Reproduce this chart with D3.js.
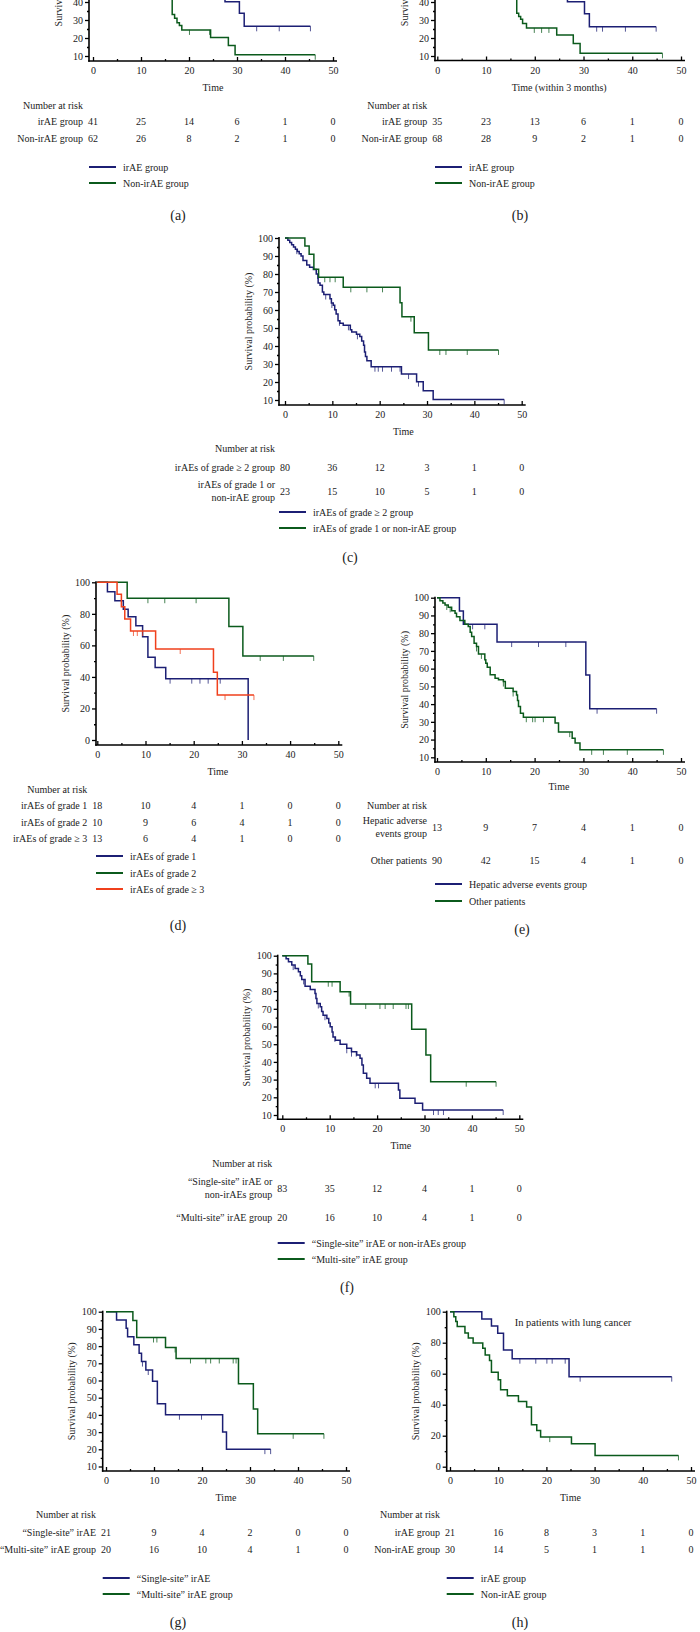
<!DOCTYPE html>
<html><head><meta charset="utf-8">
<script src="https://cdn.jsdelivr.net/npm/d3@7"></script>
<style>
body{margin:0;background:#fff}
svg{display:block}
text{font-family:"Liberation Serif","Times New Roman",serif;fill:#222}
</style>
</head><body>
<svg id="chart" width="700" height="1632"></svg>
<script>
// ---------------- DATA ----------------
const timeTicks = [0,10,20,30,40,50];
const timeMinor = [5,15,25,35,45];

// (a) all irAE vs non-irAE  — steps: [time, survival %]
const aIrae = [[0,100],[2,97.5],[4,95],[6,90],[8,85],[10,80],[12,72],[14,65],[16,58],[18,52],[20,48],[24,44],[27.5,40.2],[30.5,33.7],[31.5,26.5]];
const aIraeEnd = 45.3, aIraeCens = [34.1,38.8,45.3];
const aNon = [[0,100],[1,96],[3,90],[5,82],[7,74],[9,66],[11,60],[13,54],[15,49],[16.5,33],[17,31],[17.5,28.5],[18,27],[18.5,24.5],[24.5,20.3],[28.2,15.8],[29.6,10.7]];
const aNonEnd = 46.3, aNonCens = [20.1,24.3,46.3];
const aRiskIrae = [41,25,14,6,1,0];
const aRiskNon = [62,26,8,2,1,0];

// (b) within 3 months
const bIrae = [[0,100],[2,97],[4,94],[6,90],[8,85],[10,80],[12,74],[14,68],[16,62],[18,56],[20,51],[23,46],[26.7,40.2],[30.2,33.5],[31.2,26.3]];
const bIraeEnd = 44.9, bIraeCens = [32.7,33.9,38.6,44.9];
const bNon = [[0,100],[1,96],[3,90],[5,83],[7,75],[9,68],[11,61],[13,55],[15,50],[16.3,33.7],[16.7,31.9],[17.1,30.4],[17.5,28],[18.3,25.6],[24.5,21.7],[27.9,17],[29.3,11.5]];
const bNonEnd = 46.2, bNonCens = [19.9,21.4,22.9,46.2];
const bRiskIrae = [35,23,13,6,1,0];
const bRiskNon = [68,28,9,2,1,0];

// (c) grade >= 2 vs grade 1 or non-irAE
const cHigh = [[0,100],[0.6,98.8],[1.0,97.5],[1.4,96.3],[1.8,95],[2.2,93.8],[2.6,92.5],[3.0,91.3],[3.4,90],[3.8,87.5],[4.6,85],[5.2,83.8],[6.0,82.5],[6.6,80],[7.0,75],[7.4,73.8],[7.9,70],[8.2,68.6],[9.5,66.3],[9.8,63.9],[10.2,62.6],[10.5,60.2],[10.8,57.8],[11.2,54],[11.6,52.7],[12.3,51.5],[13.8,49],[14.1,47.8],[15.1,46.5],[15.8,45.3],[16.2,42.8],[16.6,40.4],[16.8,36.7],[17.0,34.2],[17.3,31.8],[18.2,28.5],[24.6,24.4],[27.8,20.2],[29.2,15.2],[31.3,10.3]];
const cHighEnd = 46.3, cHighCens = [2.5,6.9,8.6,9.9,11.5,13.4,15.3,19.0,19.7,20.6,22.5,24.3,26.1,28.2,46.3];
const cLow = [[0,100],[4.2,95.5],[5.1,91],[6.1,82.6],[7.1,78.2],[12.3,72.6],[24.3,64],[24.7,56.3],[27.3,47.4],[30.3,37.8]];
const cLowEnd = 45.1, cLowCens = [8.4,9.5,10.6,13.9,17.3,20.6,26.6,32.7,34.0,38.5,45.1];
const cRiskHigh = [80,36,12,3,1,0];
const cRiskLow = [23,15,10,5,1,0];

// (d) by grade
const dG1 = [[0,100],[2.1,94],[3.65,88.3],[5.4,82.9],[6.4,78.2],[8.0,72.5],[9.4,65.5],[10.5,52.4],[12.0,45.9],[14.2,38.9],[31.3,0]];
const dG1End = 31.3, dG1Cens = [15.1,19.6,21.3,23.0,25.5];
const dG2 = [[0,100],[6.2,89.9],[27.3,71.9],[30.2,53.3]];
const dG2End = 44.9, dG2Cens = [10.5,14.0,20.5,33.8,38.6,44.9];
const dG3 = [[0,100],[4.1,92.4],[5.0,84.5],[5.7,76.7],[6.9,69.1],[12.1,57.7],[24.1,42.9],[24.9,28.5]];
const dG3End = 32.5, dG3Cens = [7.5,8.3,9.4,17.2,26.5,32.5];
const dRiskG1 = [18,10,4,1,0,0];
const dRiskG2 = [10,9,6,4,1,0];
const dRiskG3 = [13,6,4,1,0,0];

// (e) hepatic adverse events
const eHep = [[0,100],[4.6,92.5],[5.4,85],[12.3,75],[30.5,56.4],[31.3,37.4]];
const eHepEnd = 45.0, eHepCens = [7.3,9.8,15.3,20.8,26.4,32.8,45.0];
const eOther = [[0,100],[0.6,98.3],[1.2,97],[1.65,95.9],[2.3,94.6],[3.0,92.7],[3.7,91.2],[4.0,89.3],[4.7,87.1],[5.7,85],[6.4,83.7],[6.8,80.5],[7.1,78.1],[7.6,74.3],[8.1,72.5],[8.5,68.3],[9.8,65],[10.0,63],[10.3,60.8],[10.9,56.5],[11.9,54.6],[12.6,53.7],[13.6,52.7],[14.0,49],[15.6,47.1],[16.3,45.2],[16.5,42],[16.7,38.6],[17.1,34.9],[17.7,32.6],[24.2,29.3],[24.9,24.2],[27.7,20.8],[28.3,18],[29.3,14.2]];
const eOtherEnd = 46.4, eOtherCens = [2.0,2.7,8.1,9.1,13.6,15.6,18.3,19.6,20.1,21.8,27.2,31.7,34.1,39.0,46.4];
const eRiskHep = [13,9,7,4,1,0];
const eRiskOther = [90,42,15,4,1,0];

// (f) single-site or non vs multi-site
const fSingle = [[0,100],[0.8,98.3],[1.3,96.6],[2.0,94.7],[2.7,92.8],[3.4,90.9],[3.8,88.7],[4.1,86.6],[4.8,82.8],[5.9,80.9],[6.9,78.7],[7.1,75.8],[7.3,73],[8.0,71.1],[8.3,68.5],[8.6,66.4],[9.4,64.5],[9.8,62],[10.1,59.8],[10.5,56.9],[10.7,54.1],[11.2,52.3],[12.2,50],[13.6,47.7],[14.6,45.8],[15.7,43.9],[16.4,42.0],[16.8,38.3],[17.1,33.6],[17.8,30.7],[18.5,27.9],[24.5,24.1],[24.8,19.4],[28.0,16.6],[29.6,12.8]];
const fSingleEnd = 46.6, fSingleCens = [2.3,4.5,7.6,9.0,11.1,13.6,14.6,15.6,19.6,20.3,31.9,32.9,34.0,46.6];
const fMulti = [[0,100],[5.4,95.3],[6.2,85.3],[12.2,79.7],[14.4,72.7],[27.3,58.4],[30.3,43.9],[31.3,28.8]];
const fMultiEnd = 45.1, fMultiCens = [9.7,10.5,14.1,17.6,20.6,21.7,23.4,26.1,26.6,38.8,45.1];
const fRiskSingle = [83,35,12,4,1,0];
const fRiskMulti = [20,16,10,4,1,0];

// (g) single-site irAE vs multi-site irAE
const gSingle = [[0,100],[2.2,95.2],[4.2,90.4],[4.5,85.5],[5.8,80.8],[6.9,75.8],[7.4,71.0],[8.3,66.1],[9.7,59.6],[10.7,46.5],[12.4,40.1],[24.3,30.0],[25.1,20.1]];
const gSingleEnd = 34.3, gSingleCens = [7.6,8.8,15.3,19.9,33.1,34.3];
const gMulti = [[0,100],[5.6,94.9],[6.4,85.0],[12.4,79.2],[14.6,72.8],[27.6,58.1],[30.7,43.5],[31.6,29.0]];
const gMultiEnd = 45.4, gMultiCens = [9.9,10.6,14.4,17.6,20.8,21.8,23.6,26.5,27.1,39.0,45.4];
const gRiskSingle = [21,9,4,2,0,0];
const gRiskMulti = [20,16,10,4,1,0];

// (h) lung cancer
const hIrae = [[0,100],[6.6,95.3],[8.6,90.8],[9.9,86.1],[11.1,75.3],[12.9,69.7],[24.7,58.1]];
const hIraeEnd = 46.0, hIraeCens = [14.5,17.8,20.1,21.2,23.9,27.0,46.0];
const hNon = [[0,100],[0.8,96.8],[1.2,93.7],[1.5,90.5],[3.1,86.2],[3.8,83],[4.8,79.8],[6.8,76.5],[7.3,72.1],[8.2,68.5],[8.6,61],[10.0,56.1],[10.5,49.6],[11.9,45.8],[14.2,42.1],[15.9,38.5],[16.9,27.1],[18.0,23.4],[18.8,19.1],[25.2,14.8],[30.1,7.3]];
const hNonEnd = 47.4, hNonCens = [20.7,47.4];
const hRiskIrae = [21,16,8,3,1,0];
const hRiskNon = [30,14,5,1,1,0];

const yTicksTen = [10,20,30,40,50,60,70,80,90,100];
const yMinorTen = [15,25,35,45,55,65,75,85,95];
const yTicksTwenty = [0,20,40,60,80,100];
const yMinorTwenty = [10,30,50,70,90];

// ---------------- STYLE ----------------
const BLUE = "#1c1f74", GREEN = "#0b5a1c", RED = "#f0401c";
const FONT = '"Liberation Serif","Times New Roman",serif';

// ---------------- LAYOUT + SERIES ----------------
const panels = [
 {label:"(a)", lx:178, ly:215, x0:93, x50:333, yv:[10,100], yp:[56,-106], yAxisX:89,
  yT:yTicksTen, yM:yMinorTen, axisY:61, timeY:87, timeText:"Time", narY:105, legendY:[167,183],
  series:[{s:aIrae,e:aIraeEnd,c:aIraeCens,col:BLUE,name:"irAE group"},{s:aNon,e:aNonEnd,c:aNonCens,col:GREEN,name:"Non-irAE group"}],
  rows:[{lab:["irAE group"],v:aRiskIrae,y:121},{lab:["Non-irAE group"],v:aRiskNon,y:138}]},
 {label:"(b)", lx:520, ly:215, x0:437.3, x50:681, yv:[10,100], yp:[56,-106], yAxisX:435,
  yT:yTicksTen, yM:yMinorTen, axisY:60.5, timeY:87, timeText:"Time (within 3 months)", narY:105, legendY:[167,183],
  series:[{s:bIrae,e:bIraeEnd,c:bIraeCens,col:BLUE,name:"irAE group"},{s:bNon,e:bNonEnd,c:bNonCens,col:GREEN,name:"Non-irAE group"}],
  rows:[{lab:["irAE group"],v:bRiskIrae,y:121},{lab:["Non-irAE group"],v:bRiskNon,y:138}]},
 {label:"(c)", lx:350, ly:557, x0:285, x50:521.7, yv:[10,100], yp:[400,238], yAxisX:279,
  yT:yTicksTen, yM:yMinorTen, axisY:405, timeY:431, timeText:"Time", narY:448, legendY:[512,528],
  series:[{s:cHigh,e:cHighEnd,c:cHighCens,col:BLUE,name:"irAEs of grade \u2265 2 group"},{s:cLow,e:cLowEnd,c:cLowCens,col:GREEN,name:"irAEs of grade 1 or non-irAE group"}],
  rows:[{lab:["irAEs of grade \u2265 2 group"],v:cRiskHigh,y:467},{lab:["irAEs of grade 1 or","non-irAE group"],v:cRiskLow,y:491}]},
 {label:"(d)", lx:178, ly:925, x0:97.3, x50:338.3, yv:[0,100], yp:[740,582.3], yAxisX:96,
  yT:yTicksTwenty, yM:yMinorTwenty, axisY:745, timeY:771, timeText:"Time", narY:789, legendY:[856,873,889],
  series:[{s:dG1,e:dG1End,c:dG1Cens,col:BLUE,name:"irAEs of grade 1"},{s:dG2,e:dG2End,c:dG2Cens,col:GREEN,name:"irAEs of grade 2"},{s:dG3,e:dG3End,c:dG3Cens,col:RED,name:"irAEs of grade \u2265 3"}],
  rows:[{lab:["irAEs of grade 1"],v:dRiskG1,y:805},{lab:["irAEs of grade 2"],v:dRiskG2,y:822},{lab:["irAEs of grade \u2265 3"],v:dRiskG3,y:838}]},
 {label:"(e)", lx:522, ly:929, x0:437, x50:681, yv:[10,100], yp:[757.3,597.7], yAxisX:435,
  yT:yTicksTen, yM:yMinorTen, axisY:762, timeY:786, timeText:"Time", narY:805, legendY:[884,901],
  series:[{s:eHep,e:eHepEnd,c:eHepCens,col:BLUE,name:"Hepatic adverse events group"},{s:eOther,e:eOtherEnd,c:eOtherCens,col:GREEN,name:"Other patients"}],
  rows:[{lab:["Hepatic adverse","events group"],v:eRiskHep,y:827},{lab:["Other patients"],v:eRiskOther,y:860}]},
 {label:"(f)", lx:347, ly:1287, x0:282.3, x50:519.3, yv:[10,100], yp:[1115,955.7], yAxisX:277.7,
  yT:yTicksTen, yM:yMinorTen, axisY:1119.3, timeY:1145, timeText:"Time", narY:1163, legendY:[1243,1259],
  series:[{s:fSingle,e:fSingleEnd,c:fSingleCens,col:BLUE,name:"\u201cSingle-site\u201d irAE or non-irAEs group"},{s:fMulti,e:fMultiEnd,c:fMultiCens,col:GREEN,name:"\u201cMulti-site\u201d irAE group"}],
  rows:[{lab:["\u201cSingle-site\u201d irAE or","non-irAEs group"],v:fRiskSingle,y:1188},{lab:["\u201cMulti-site\u201d irAE group"],v:fRiskMulti,y:1217}]},
 {label:"(g)", lx:178, ly:1622, x0:106, x50:346, yv:[10,100], yp:[1466.5,1311.7], yAxisX:102.7,
  yT:yTicksTen, yM:yMinorTen, axisY:1471, timeY:1497, timeText:"Time", narY:1514, legendY:[1578,1594],
  series:[{s:gSingle,e:gSingleEnd,c:gSingleCens,col:BLUE,name:"\u201cSingle-site\u201d irAE"},{s:gMulti,e:gMultiEnd,c:gMultiCens,col:GREEN,name:"\u201cMulti-site\u201d irAE group"}],
  rows:[{lab:["\u201cSingle-site\u201d irAE"],v:gRiskSingle,y:1532},{lab:["\u201cMulti-site\u201d irAE group"],v:gRiskMulti,y:1549}]},
 {label:"(h)", lx:520, ly:1622, x0:450, x50:691, yv:[0,100], yp:[1466.7,1311.7], yAxisX:446.7,
  yT:yTicksTwenty, yM:yMinorTwenty, axisY:1471, timeY:1497, timeText:"Time", narY:1514, legendY:[1578,1594],
  title:"In patients with lung cancer", titleX:573, titleY:1322,
  series:[{s:hIrae,e:hIraeEnd,c:hIraeCens,col:BLUE,name:"irAE group"},{s:hNon,e:hNonEnd,c:hNonCens,col:GREEN,name:"Non-irAE group"}],
  rows:[{lab:["irAE group"],v:hRiskIrae,y:1532},{lab:["Non-irAE group"],v:hRiskNon,y:1549}]}
];

// ---------------- DRAW ----------------
const svg = d3.select("#chart");

function stepValue(steps, t){
  let v = steps[0][1];
  for (const s of steps){ if (s[0] <= t) v = s[1]; else break; }
  return v;
}

function drawPanel(p){
  const g = svg.append("g");
  const x = d3.scaleLinear().domain([0,50]).range([p.x0, p.x50]);
  const y = d3.scaleLinear().domain(p.yv).range(p.yp);
  // only ticks that fall (at least partly) inside the picture
  const inView = v => y(v) > -5;

  // y axis
  const ya = g.append("g").attr("transform",`translate(${p.yAxisX},0)`)
    .call(d3.axisLeft(y).tickValues(p.yT.filter(inView)).tickSize(4).tickPadding(2));
  ya.select(".domain").remove();
  const yam = g.append("g").attr("transform",`translate(${p.yAxisX},0)`)
    .call(d3.axisLeft(y).tickValues(p.yM.filter(inView)).tickSize(2).tickFormat(""));
  yam.select(".domain").remove();

  // x axis (ticks inward)
  const xa = g.append("g").attr("transform",`translate(0,${p.axisY})`)
    .call(d3.axisBottom(x).tickValues(timeTicks).tickSizeInner(-4).tickSizeOuter(0).tickPadding(6));
  xa.select(".domain").remove();
  const xam = g.append("g").attr("transform",`translate(0,${p.axisY})`)
    .call(d3.axisBottom(x).tickValues(timeMinor).tickSizeInner(-2).tickSizeOuter(0).tickFormat(""));
  xam.select(".domain").remove();
  xa.selectAll("text").attr("y", 6).attr("dy","0.71em");

  [ya,yam,xa,xam].forEach(a => a.attr("font-family",FONT).attr("font-size",10).attr("color","#111")
     .selectAll("line").attr("stroke","#000").attr("stroke-width",1.3));
  [ya,xa].forEach(a => a.selectAll("text").attr("fill","#222"));

  // axis lines
  g.append("line").attr("x1",p.yAxisX).attr("x2",p.yAxisX).attr("y1",p.axisY+0.7).attr("y2",y(100)-1)
    .attr("stroke","#000").attr("stroke-width",1.6);
  g.append("line").attr("x1",p.yAxisX-0.8).attr("x2",x(50)+4).attr("y1",p.axisY).attr("y2",p.axisY)
    .attr("stroke","#000").attr("stroke-width",1.6);

  // y axis title
  const ymid = (y(100)+p.axisY)/2;
  g.append("text").attr("transform",`translate(${p.yAxisX-31},${ymid}) rotate(-90)`)
    .attr("text-anchor","middle").attr("dy","0.35em").attr("font-size",10).text("Survival probability (%)");

  // x axis title
  g.append("text").attr("x",(x(0)+x(50))/2).attr("y",p.timeY).attr("dy","0.35em")
    .attr("text-anchor","middle").attr("font-size",10).text(p.timeText);

  if (p.title){
    g.append("text").attr("x",p.titleX).attr("y",p.titleY).attr("dy","0.35em")
      .attr("text-anchor","middle").attr("font-size",10.5).text(p.title);
  }

  // curves
  const line = d3.line().x(d=>x(d[0])).y(d=>y(d[1])).curve(d3.curveStepAfter);
  p.series.forEach(se => {
    const pts = se.s.concat([[se.e, se.s[se.s.length-1][1]]]);
    g.append("path").attr("d",line(pts)).attr("fill","none").attr("stroke",se.col)
      .attr("stroke-width",1.5);
    se.c.forEach(ct => {
      const v = stepValue(se.s, ct);
      g.append("line").attr("x1",x(ct)).attr("x2",x(ct)).attr("y1",y(v)).attr("y2",y(v)+5)
        .attr("stroke",se.col).attr("stroke-width",1).attr("opacity",0.75);
    });
  });

  // number at risk table
  const lx = p.x0 - 10;
  g.append("text").attr("x",lx).attr("y",p.narY).attr("dy","0.35em").attr("text-anchor","end")
    .attr("font-size",10).text("Number at risk");
  p.rows.forEach(r => {
    if (r.lab.length === 1){
      g.append("text").attr("x",lx).attr("y",r.y).attr("dy","0.35em").attr("text-anchor","end")
        .attr("font-size",10).text(r.lab[0]);
    } else {
      r.lab.forEach((l,i) => {
        g.append("text").attr("x",lx).attr("y",r.y + (i===0?-6.5:6.5)).attr("dy","0.35em")
          .attr("text-anchor","end").attr("font-size",10).text(l);
      });
    }
    r.v.forEach((val,i) => {
      g.append("text").attr("x",x(timeTicks[i])).attr("y",r.y).attr("dy","0.35em")
        .attr("text-anchor","middle").attr("font-size",10).text(val);
    });
  });

  // legend
  p.series.forEach((se,i) => {
    const ly = p.legendY[i];
    g.append("line").attr("x1",p.yAxisX).attr("x2",p.yAxisX+27).attr("y1",ly).attr("y2",ly)
      .attr("stroke",se.col).attr("stroke-width",2);
    g.append("text").attr("x",p.yAxisX+34).attr("y",ly).attr("dy","0.35em").attr("font-size",10).text(se.name);
  });

  // panel label
  g.append("text").attr("x",p.lx).attr("y",p.ly).attr("dy","0.35em").attr("text-anchor","middle")
    .attr("font-size",14).text(p.label);
}

panels.forEach(drawPanel);
</script>
</body></html>
